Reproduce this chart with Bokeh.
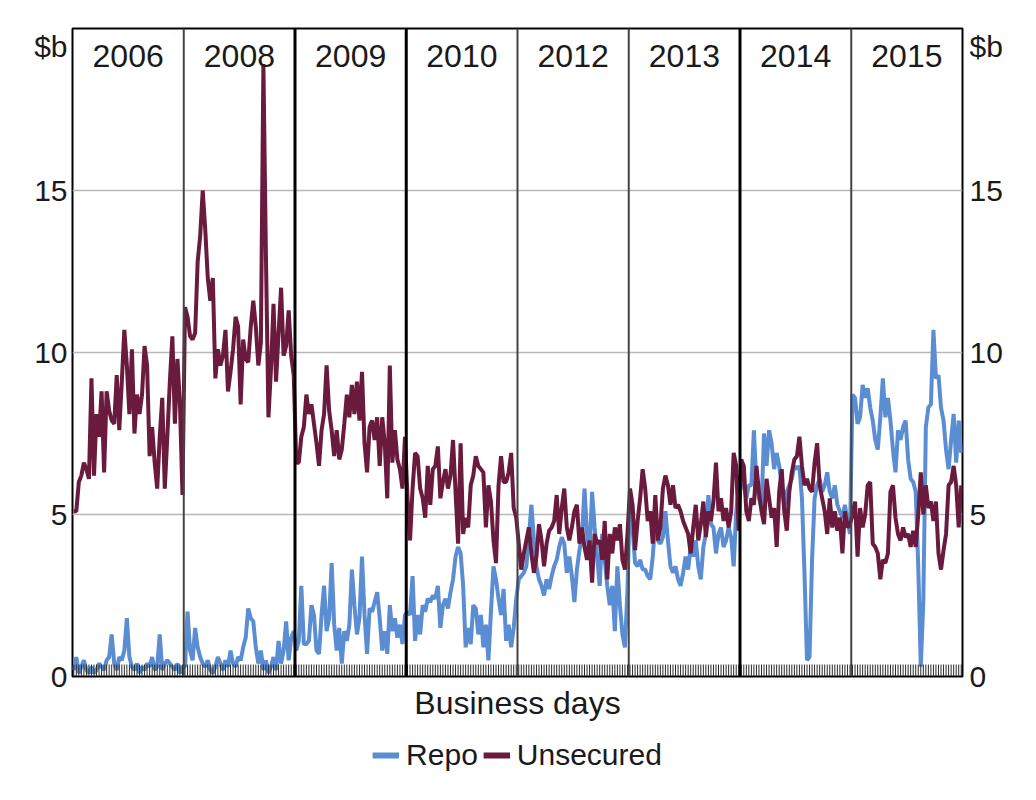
from bokeh.plotting import figure
from bokeh.layouts import column
from bokeh.models import (ColumnDataSource, LinearAxis, FixedTicker, Range1d, Span,
                          Label, Legend, LegendItem)
from bokeh.embed import file_html
from bokeh.resources import INLINE

years = ["2006", "2008", "2009", "2010", "2012", "2013", "2014", "2015"]
y_ticks = [0, 5, 10, 15]
unit_label = "$b"
series_names = ["Repo", "Unsecured"]

repo_2006 = [0.2,0.6,0.1,0.3,0.5,0.2,0.1,0.3,0.1,0.2,0.4,0.3,0.2,0.5,0.6,1.3,0.4,0.2,0.6,0.5,0.8,1.8,
             0.6,0.3,0.2,0.4,0.1,0.3,0.2,0.4,0.3,0.6,0.2,0.3,1.3,0.2,0.4,0.5,0.4,0.3,0.2,0.4,0.1,0.3]
unsec_2006 = [5.1,5.1,6.0,6.2,6.6,6.4,6.1,9.2,6.2,8.1,7.4,8.8,6.3,8.8,8.2,7.9,7.8,9.3,7.6,9.1,10.7,9.6,
              8.1,10.1,7.5,8.7,8.1,8.7,10.2,9.6,6.8,7.7,6.6,5.8,7.4,8.6,5.8,7.4,9.1,10.5,7.8,9.8,8.4,5.6]

repo_2008 = [0.3,2.0,0.8,0.5,1.5,0.9,0.6,0.4,0.3,0.5,0.2,0.1,0.3,0.6,0.4,0.2,0.5,0.3,0.8,0.4,0.3,0.6,
             0.5,0.9,1.2,2.1,1.8,1.7,0.9,0.4,0.8,0.2,0.5,0.1,0.3,0.6,0.2,1.1,0.4,0.8,1.7,0.5,1.2,1.4]
unsec_2008 = [11.4,11.1,10.5,10.4,10.6,12.8,13.6,15.0,13.8,12.3,11.6,12.3,9.2,10.1,9.6,9.9,10.7,8.8,9.4,10.1,
              11.1,10.8,8.4,10.4,9.8,9.7,10.8,11.6,10.8,9.6,10.3,18.9,13.0,8.0,9.5,11.5,9.1,10.6,12.0,9.9,
              10.2,11.3,9.9,9.3]

repo_2009 = [0.8,1.1,2.8,1.0,1.0,1.1,2.2,1.9,0.8,0.7,1.9,2.8,1.4,1.8,3.5,1.6,0.8,1.5,0.4,1.4,1.1,1.6,
             3.3,2.2,1.3,1.8,3.7,1.9,0.7,2.1,2.0,2.3,2.6,1.8,0.8,1.4,0.7,2.2,1.4,1.8,1.2,1.6,1.0,1.9]
unsec_2009 = [6.6,6.6,7.4,7.7,8.7,8.1,8.4,7.8,7.2,6.5,7.6,8.1,9.6,8.2,7.6,6.8,7.6,6.7,7.0,7.8,8.7,8.0,
              9.0,8.1,9.1,7.9,9.4,7.2,6.3,7.7,7.9,7.3,8.0,6.5,8.0,7.2,5.5,9.6,6.6,7.6,6.7,6.4,5.8,7.4]

repo_2010 = [2.0,1.9,3.1,1.1,1.9,1.3,2.2,2.0,2.4,2.3,2.5,2.4,2.8,1.5,2.2,2.4,2.1,2.6,3.0,3.7,4.0,3.8,
             2.8,0.9,1.5,1.0,2.2,2.1,1.3,1.9,0.9,1.6,0.5,2.0,3.4,3.0,2.4,1.9,2.7,1.1,1.6,0.9,1.5,2.4]
unsec_2010 = [5.5,4.2,5.8,6.9,6.8,5.8,5.5,4.9,6.5,5.3,6.4,6.5,7.1,5.5,6.0,6.4,5.8,6.2,7.3,5.7,4.1,7.2,
              4.4,4.9,4.6,5.9,6.2,6.8,6.5,6.4,6.3,4.6,5.9,5.4,4.2,3.5,5.9,6.8,6.0,6.0,6.3,6.9,5.2,4.9]

repo_2012 = [3.0,3.1,3.2,3.4,4.3,5.3,4.2,3.4,3.0,2.8,2.5,3.0,2.7,3.1,3.4,3.6,4.0,4.3,4.1,3.2,3.7,3.1,
             2.3,3.3,3.9,4.3,5.8,4.4,3.8,5.7,4.6,3.7,2.8,4.4,3.6,2.8,2.2,2.8,1.4,3.4,2.2,1.3,0.9,2.7]
unsec_2012 = [4.1,3.3,3.8,4.2,4.6,3.8,3.2,3.7,4.7,4.2,3.4,4.1,4.5,4.6,4.8,5.6,4.4,5.2,5.8,4.6,4.2,4.6,
              5.1,5.3,4.1,4.6,4.0,3.6,4.2,2.9,4.4,4.1,4.2,3.6,4.8,3.0,4.4,3.8,4.6,4.2,4.7,3.6,3.3,4.4]

repo_2013 = [5.7,4.6,3.5,3.4,3.6,3.3,3.3,3.1,3.0,3.7,4.8,4.2,4.1,4.3,5.1,4.2,3.4,3.2,3.4,3.0,2.8,3.2,
             3.7,3.3,4.0,3.7,4.2,3.4,3.0,4.0,4.4,5.6,4.7,4.6,3.8,4.4,4.6,4.0,4.2,4.6,4.3,3.4,5.1,5.8]
unsec_2013 = [5.8,5.3,3.9,4.8,5.5,6.4,5.8,4.8,5.1,4.1,5.6,4.2,4.6,5.8,6.2,5.9,5.3,5.9,5.2,5.3,5.1,4.8,
              4.6,4.4,3.8,4.6,5.3,4.2,4.7,5.4,4.3,5.1,4.8,5.4,6.6,5.1,5.5,4.8,5.2,4.6,5.1,6.9,6.5,4.5]

repo_2014 = [6.3,5.9,5.5,5.9,5.9,7.6,5.9,5.5,5.2,7.5,6.5,7.6,7.2,6.4,6.9,6.5,5.9,5.2,5.7,5.9,6.1,6.5,
             6.4,6.5,5.5,3.2,0.5,0.6,3.6,5.5,5.9,6.1,5.7,5.9,6.3,5.7,5.5,5.9,5.3,5.1,4.9,5.3,4.8,4.4]
unsec_2014 = [6.7,6.5,5.1,4.8,5.5,5.3,6.5,5.7,5.1,4.7,6.1,5.5,4.9,5.2,4.0,5.7,6.4,5.1,4.5,5.7,6.3,6.7,
              6.8,7.4,6.5,5.9,6.1,5.8,5.7,6.6,7.2,5.9,5.5,5.1,4.4,5.5,4.6,5.1,4.5,4.9,3.8,5.1,4.6,4.7]

repo_2015 = [8.7,8.6,7.8,8.0,9.0,8.6,8.9,8.3,7.9,7.3,7.0,8.0,9.2,8.0,8.6,7.9,7.0,6.3,7.6,7.3,7.7,7.9,
             6.7,6.1,6.0,5.7,3.4,0.3,2.3,7.7,8.3,8.4,10.7,9.2,9.3,8.3,7.9,7.0,6.4,7.3,8.1,6.6,7.9,6.9]
unsec_2015 = [5.0,5.4,3.7,5.2,4.6,5.0,5.9,6.0,4.1,4.0,3.8,3.0,3.6,3.5,3.8,5.7,5.9,4.9,4.4,4.2,4.6,4.3,
              4.4,4.0,4.5,4.0,5.0,6.3,5.0,5.9,5.2,5.4,4.8,5.4,3.8,3.3,3.9,4.4,5.9,6.0,6.5,5.9,4.6,5.9]

repo_panels = [repo_2006, repo_2008, repo_2009, repo_2010, repo_2012, repo_2013, repo_2014, repo_2015]
unsec_panels = [unsec_2006, unsec_2008, unsec_2009, unsec_2010, unsec_2012, unsec_2013, unsec_2014, unsec_2015]

N = len(repo_2006)
n_panels = len(years)

xs, repo, unsec = [], [], []
for k in range(n_panels):
    for i in range(N):
        xs.append(k * N + i + 0.5)
        repo.append(repo_panels[k][i])
        unsec.append(unsec_panels[k][i])

src = ColumnDataSource(dict(x=xs, repo=repo, unsec=unsec))

FONT = "Liberation Sans"
TXT = "#1a1a1a"
BLUE = "#5b8dd3"
MAROON = "#6a1b3d"
Y_MAX = 20
UNIT_POS = 19.45
FRAME_H = 648
TICK_PX = 12

p = figure(frame_width=890, frame_height=FRAME_H, output_backend="svg", toolbar_location=None,
           x_range=Range1d(0, n_panels * N), y_range=Range1d(0, Y_MAX),
           min_border_left=72, min_border_right=62, min_border_top=28, min_border_bottom=48,
           background_fill_color="white", border_fill_color="white")

p.outline_line_color = "black"
p.outline_line_width = 2

# y axes (unit label shown as a tick label near the top)
axis_ticks = FixedTicker(ticks=y_ticks + [UNIT_POS])
p.yaxis[0].ticker = axis_ticks
ra = LinearAxis(ticker=axis_ticks)
p.add_layout(ra, "right")
for ax, standoff in [(p.yaxis[0], 5), (ra, 7)]:
    ax.major_label_overrides = {UNIT_POS: unit_label}
    ax.major_label_text_font = FONT
    ax.major_label_text_font_size = "30px"
    ax.major_label_text_color = TXT
    ax.major_tick_in = 0
    ax.major_tick_out = 0
    ax.minor_tick_line_color = None
    ax.axis_line_color = None
    ax.major_label_standoff = standoff

p.ygrid.ticker = FixedTicker(ticks=y_ticks)
p.ygrid.grid_line_color = "#b8b8b8"
p.ygrid.grid_line_width = 1.5
p.xgrid.grid_line_color = None

# x axis: only the title; daily ticks drawn as short segments
xa = p.xaxis[0]
xa.ticker = FixedTicker(ticks=[])
xa.major_tick_line_color = None
xa.minor_tick_line_color = None
xa.axis_line_color = "black"
xa.axis_label = "Business days"
xa.axis_label_text_font = FONT
xa.axis_label_text_font_size = "32px"
xa.axis_label_text_font_style = "normal"
xa.axis_label_text_color = TXT
xa.axis_label_standoff = 8

# panel dividers
div_colors = ["#444444", "#000000", "#000000", "#444444", "#444444", "#000000", "#444444"]
div_widths = [2, 3, 3, 2, 2, 3, 2]
for k in range(1, n_panels):
    p.add_layout(Span(location=k * N, dimension="height",
                      line_color=div_colors[k - 1], line_width=div_widths[k - 1]))

r_repo = p.line("x", "repo", source=src, line_color=BLUE, line_width=4)
r_unsec = p.line("x", "unsec", source=src, line_color=MAROON, line_width=4)

tick_h = TICK_PX * Y_MAX / FRAME_H
p.segment(x0="x", y0=0, x1="x", y1=tick_h, source=src, line_color="#2a2a2a", line_width=1)

# year labels
for k, yr in enumerate(years):
    p.add_layout(Label(x=k * N + N / 2, y=Y_MAX, text=yr, text_align="center", text_baseline="top",
                       y_offset=-16, text_font=FONT, text_font_size="32px", text_color=TXT))

# legend in its own strip below the chart (the strip's ranges keep the series out of view)
lg = figure(width=1024, height=62, output_backend="svg", toolbar_location=None,
            x_range=Range1d(-2, -1), y_range=Range1d(-2, -1), min_border=0,
            background_fill_color="white", border_fill_color="white")
lg.axis.visible = False
lg.grid.grid_line_color = None
lg.outline_line_color = None
l1 = lg.line("x", "repo", source=src, line_color=BLUE, line_width=6)
l2 = lg.line("x", "unsec", source=src, line_color=MAROON, line_width=6)
legend = Legend(items=[LegendItem(label=series_names[0], renderers=[l1]),
                       LegendItem(label=series_names[1], renderers=[l2])],
                orientation="horizontal", location="center",
                label_text_font=FONT, label_text_font_size="30px", label_text_color=TXT,
                glyph_width=27, glyph_height=20, label_standoff=7, spacing=5,
                padding=0, margin=0, border_line_color=None, background_fill_alpha=0)
lg.add_layout(legend)

layout = column(p, lg, spacing=0)
open("out.html", "w").write(file_html(layout, INLINE))
